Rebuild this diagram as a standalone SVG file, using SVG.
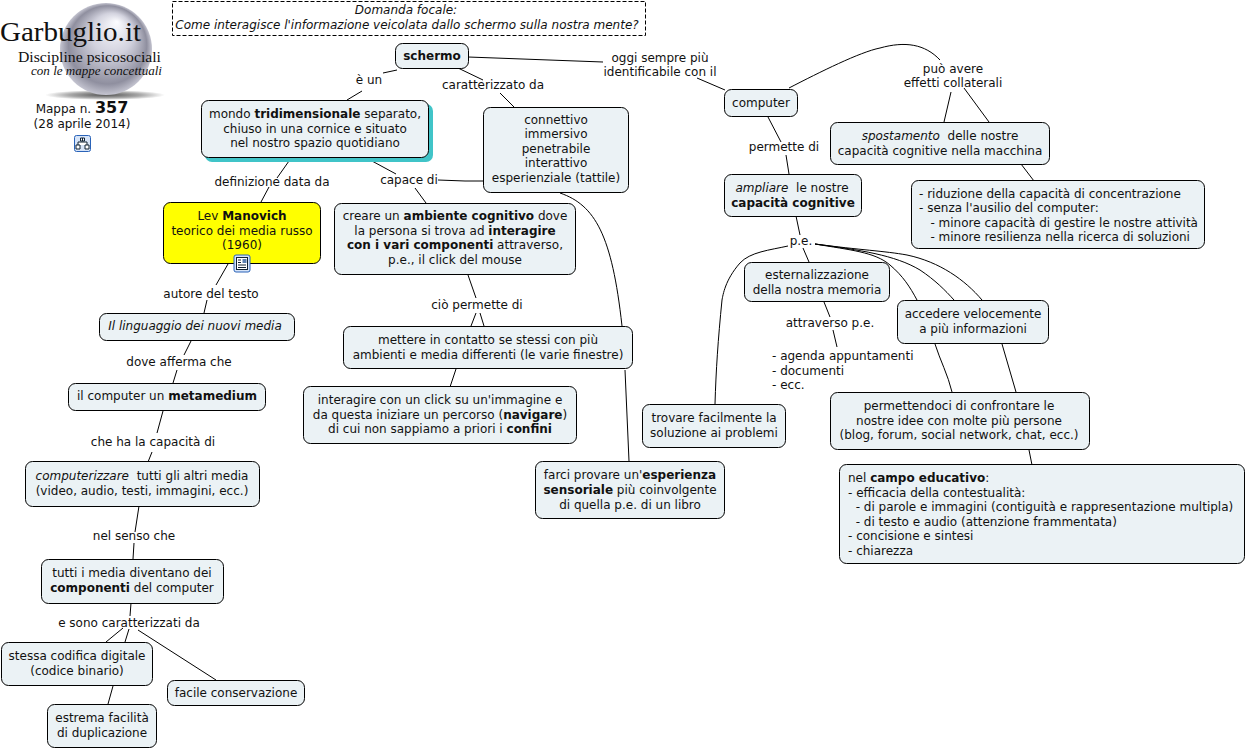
<svg xmlns="http://www.w3.org/2000/svg" width="1247" height="750" viewBox="0 0 1247 750">
<style>
text{font-family:"DejaVu Sans",Verdana,sans-serif;font-size:12px;fill:#111;text-anchor:middle;white-space:pre}
.b{font-weight:bold}.i{font-style:italic}
.n{fill:#ebf2f5;stroke:#000;stroke-width:1}
.l{text-anchor:start}
.c path{fill:none;stroke:#000;stroke-width:1}
.ic{fill:#d6e4f8;stroke:#2a63b8;stroke-width:1}
.s{font-family:"Liberation Serif",serif}
</style>
<defs>
<radialGradient id="s" cx="0.5" cy="0.5" r="0.5" fx="0.62" fy="0.2"><stop offset="0" stop-color="#fcfcff"/><stop offset="0.45" stop-color="#d2d2de"/><stop offset="0.85" stop-color="#8f8f9f"/><stop offset="1" stop-color="#c4c4d0"/></radialGradient>
<radialGradient id="sh"><stop offset="0" stop-color="#555"/><stop offset="0.6" stop-color="#aaa"/><stop offset="1" stop-color="#fff"/></radialGradient>
</defs>
<rect width="1247" height="750" fill="#fff"/>
<g id="logo">
<ellipse cx="105" cy="95" rx="60" ry="5" fill="url(#sh)"/>
<circle cx="106" cy="49" r="46" fill="url(#s)"/>
<text class="s" x="0" y="41" style="font-size:28px;text-anchor:start" textLength="141" lengthAdjust="spacingAndGlyphs">Garbuglio.it</text>
<text class="s" x="18" y="62" style="font-size:15px;text-anchor:start" textLength="143" lengthAdjust="spacingAndGlyphs">Discipline psicosociali</text>
<text class="s" x="31" y="75" style="font-size:12.500px;font-style:italic;text-anchor:start" textLength="131" lengthAdjust="spacingAndGlyphs">con le mappe concettuali</text>
<text x="82" y="113">Mappa n. <tspan class="b" style="font-size:16px">357</tspan></text>
<text x="82" y="128">(28 aprile 2014)</text>
<rect class="ic" x="74.500" y="135.500" width="16" height="16" rx="2"/>
<path d="M82.500 138v3M78 145v-3h9v3M76 145h4v4h-4zM85 145h4v4h-4zM80.500 138h4v3h-4z" fill="#fff" stroke="#123" stroke-width="1"/>
</g>
<g id="focus">
<rect x="172.500" y="1.500" width="473" height="34" fill="#fff" stroke="#000" stroke-dasharray="4 2"/>
<text class="i" x="406" y="14">Domanda focale:</text>
<text class="i" x="407" y="29">Come interagisce l'informazione veicolata dallo schermo sulla nostra mente?</text>
</g>
<g class="c" id="connectors">
<path d="M397 70L383 73M362 91L347 100"/>
<path d="M468 57L603 62M697 78L725 90"/>
<path d="M458 68L483 80M500 93L514 107"/>
<path d="M289 161L277 178M269 187L261 202"/>
<path d="M372 161L396 174M415 188L426 203M438 180L465 181L484 181"/>
<path d="M228 264L216 285M207 300L204 313"/>
<path d="M191 341L184 355M177 370L173 383"/>
<path d="M163 411L157 433M152 452L148 462"/>
<path d="M139 506L135 532M134 543L133 559"/>
<path d="M131 603L130 616M123 628L106 642M129 629L125 642M138 630L216 680"/>
<path d="M113 686L108 704"/>
<path d="M468 275L476 298M476 313L471 326M480 313L484 326"/>
<path d="M456 369L450 387"/>
<path d="M560 193C595 205 612 235 622 326M625 370L629 461"/>
<path d="M768 117L781 142M786 155L789 174"/>
<path d="M789 88C820 72 860 52 880 48C905 41 925 44 940 60M951 92L944 122M964 88L989 122"/>
<path d="M1021 164L1034 181"/>
<path d="M796 216L800 235M803 248L809 262"/>
<path d="M788 246C770 250 750 252 740 263C725 280 723 295 722 300C718 340 716 370 715 404"/>
<path d="M815 244C850 250 875 252 890 265C903 276 910 287 917 300"/>
<path d="M815 244C860 250 895 255 920 270C935 280 945 290 954 300"/>
<path d="M815 244C860 250 885 251 907 255C940 262 965 280 982 300"/>
<path d="M824 302L830 317M833 330L837 347"/>
<path d="M935 344C940 360 948 375 952 392M1002 344L1016 392"/>
<path d="M1029 450L1032 465"/>
</g>
<g id="schermo"><rect class="n" x="395.500" y="43.500" width="73" height="25" rx="7"/><text class="b" x="432" y="60">schermo</text></g>
<text x="369" y="84">è un</text>
<text x="493" y="89">caratterizzato da</text>
<g id="lab1"><text x="660" y="62">oggi sempre più</text><text x="660" y="76">identificabile con il</text></g>
<g id="computer"><rect class="n" x="724.500" y="89.500" width="73" height="27" rx="7"/><text x="761" y="107">computer</text></g>
<g id="lab2"><text x="953" y="73">può avere</text><text x="953" y="87">effetti collaterali</text></g>
<g id="mondo"><rect x="205" y="104" width="228" height="58" rx="7" fill="#40c4c8"/><rect class="n" x="201.500" y="100.500" width="227" height="57" rx="7"/><text x="315" y="118">mondo <tspan class="b">tridimensionale</tspan> separato,</text><text x="315" y="133">chiuso in una cornice e situato</text><text x="315" y="147">nel nostro spazio quotidiano</text></g>
<g id="connettivo"><rect class="n" x="483.500" y="107.500" width="145" height="85" rx="7"/><text x="556" y="124">connettivo</text><text x="556" y="138">immersivo</text><text x="556" y="153">penetrabile</text><text x="556" y="167">interattivo</text><text x="556" y="182">esperienziale (tattile)</text></g>
<g id="spostamento"><rect class="n" x="830.500" y="122.500" width="219" height="42" rx="7"/><text x="940" y="140"><tspan class="i">spostamento</tspan>  delle nostre</text><text x="940" y="155">capacità cognitive nella macchina</text></g>
<text x="784" y="151">permette di</text>
<g id="ampliare"><rect class="n" x="724.500" y="174.500" width="137" height="42" rx="7"/><text x="792" y="192"><tspan class="i">ampliare</tspan>  le nostre</text><text class="b" x="793" y="207">capacità cognitive</text></g>
<g id="riduzione"><rect class="n" x="911.500" y="180.500" width="293" height="68" rx="7"/><text class="l" x="919" y="198">- riduzione della capacità di concentrazione</text><text class="l" x="919" y="212">- senza l'ausilio del computer:</text><text class="l" x="919" y="227">   - minore capacità di gestire le nostre attività</text><text class="l" x="919" y="241">   - minore resilienza nella ricerca di soluzioni</text></g>
<text x="801" y="245">p.e.</text>
<text x="272" y="186">definizione data da</text>
<text x="409" y="184">capace di</text>
<g id="manovich"><rect x="163.500" y="202.500" width="157" height="61" rx="7" fill="#ffff00" stroke="#000"/><text x="242" y="220">Lev <tspan class="b">Manovich</tspan></text><text x="242" y="235">teorico dei media russo</text><text x="242" y="249">(1960)</text><rect class="ic" x="234" y="255" width="16" height="17" rx="2"/><rect x="236.500" y="257.500" width="11" height="12" fill="#fff" stroke="#123"/><path d="M238 260h3M238 262.500h3M238 265h8M238 267.500h8" stroke="#123" fill="none"/><rect x="242.500" y="259" width="4" height="4" fill="#5a7fb0"/></g>
<g id="creare"><rect class="n" x="334.500" y="203.500" width="241" height="71" rx="7"/><text x="455" y="220">creare un <tspan class="b">ambiente cognitivo</tspan> dove</text><text x="455" y="235">la persona si trova ad <tspan class="b">interagire</tspan></text><text x="455" y="249"><tspan class="b">con i vari componenti</tspan> attraverso,</text><text x="455" y="264">p.e., il click del mouse</text></g>
<g id="esternal"><rect class="n" x="744.500" y="262.500" width="145" height="39" rx="7"/><text x="817" y="279">esternalizzazione</text><text x="817" y="294">della nostra memoria</text></g>
<text x="211" y="298">autore del testo</text>
<g id="ling"><rect class="n" x="99.500" y="313.500" width="195" height="27" rx="7"/><text class="i" x="195" y="330">Il linguaggio dei nuovi media</text></g>
<text x="477" y="309">ciò permette di</text>
<g id="mettere"><rect class="n" x="343.500" y="326.500" width="289" height="42" rx="7"/><text x="488" y="344">mettere in contatto se stessi con più</text><text x="488" y="359">ambienti e media differenti (le varie finestre)</text></g>
<text x="830" y="327">attraverso p.e.</text>
<g id="accedere"><rect class="n" x="897.500" y="300.500" width="151" height="43" rx="7"/><text x="973" y="318">accedere velocemente</text><text x="973" y="333">a più informazioni</text></g>
<g id="agenda"><text class="l" x="772" y="360">- agenda appuntamenti</text><text class="l" x="772" y="375">- documenti</text><text class="l" x="772" y="389">- ecc.</text></g>
<text x="179" y="366">dove afferma che</text>
<g id="metamedium"><rect class="n" x="68.500" y="383.500" width="197" height="27" rx="7"/><text x="167" y="400">il computer un <tspan class="b">metamedium</tspan></text></g>
<g id="interagire"><rect class="n" x="303.500" y="386.500" width="273" height="57" rx="7"/><text x="440" y="404">interagire con un click su un'immagine e</text><text x="440" y="419">da questa iniziare un percorso (<tspan class="b">navigare</tspan>)</text><text x="440" y="433">di cui non sappiamo a priori i <tspan class="b">confini</tspan></text></g>
<g id="trovare"><rect class="n" x="642.500" y="404.500" width="143" height="43" rx="7"/><text x="714" y="422">trovare facilmente la</text><text x="714" y="437">soluzione ai problemi</text></g>
<g id="permettendoci"><rect class="n" x="830.500" y="392.500" width="259" height="57" rx="7"/><text x="959" y="410">permettendoci di confrontare le</text><text x="959" y="425">nostre idee con molte più persone</text><text x="959" y="439">(blog, forum, social network, chat, ecc.)</text></g>
<text x="153" y="446">che ha la capacità di</text>
<g id="farci"><rect class="n" x="535.500" y="461.500" width="189" height="57" rx="7"/><text x="630" y="479">farci provare un'<tspan class="b">esperienza</tspan></text><text x="630" y="494"><tspan class="b">sensoriale</tspan> più coinvolgente</text><text x="630" y="509">di quella p.e. di un libro</text></g>
<g id="campo"><rect class="n" x="839.500" y="464.500" width="405" height="99" rx="7"/><text class="l" x="848" y="482">nel <tspan class="b">campo educativo</tspan>:</text><text class="l" x="848" y="497">- efficacia della contestualità:</text><text class="l" x="848" y="511">  - di parole e immagini (contiguità e rappresentazione multipla)</text><text class="l" x="848" y="526">  - di testo e audio (attenzione frammentata)</text><text class="l" x="848" y="540">- concisione e sintesi</text><text class="l" x="848" y="555">- chiarezza</text></g>
<g id="computerizzare"><rect class="n" x="25.500" y="461.500" width="234" height="45" rx="7"/><text x="142" y="480"><tspan class="i">computerizzare</tspan>  tutti gli altri media</text><text x="142" y="495">(video, audio, testi, immagini, ecc.)</text></g>
<text x="134" y="540">nel senso che</text>
<g id="tutti"><rect class="n" x="41.500" y="559.500" width="182" height="44" rx="7"/><text x="132" y="577">tutti i media diventano dei</text><text x="132" y="592"><tspan class="b">componenti</tspan> del computer</text></g>
<text x="129" y="627">e sono caratterizzati da</text>
<g id="stessa"><rect class="n" x="1.500" y="642.500" width="151" height="43" rx="7"/><text x="77" y="660">stessa codifica digitale</text><text x="77" y="675">(codice binario)</text></g>
<g id="facile"><rect class="n" x="167.500" y="680.500" width="137" height="25" rx="7"/><text x="236" y="697">facile conservazione</text></g>
<g id="estrema"><rect class="n" x="47.500" y="704.500" width="109" height="43" rx="7"/><text x="102" y="722">estrema facilità</text><text x="102" y="737">di duplicazione</text></g>
</svg>
